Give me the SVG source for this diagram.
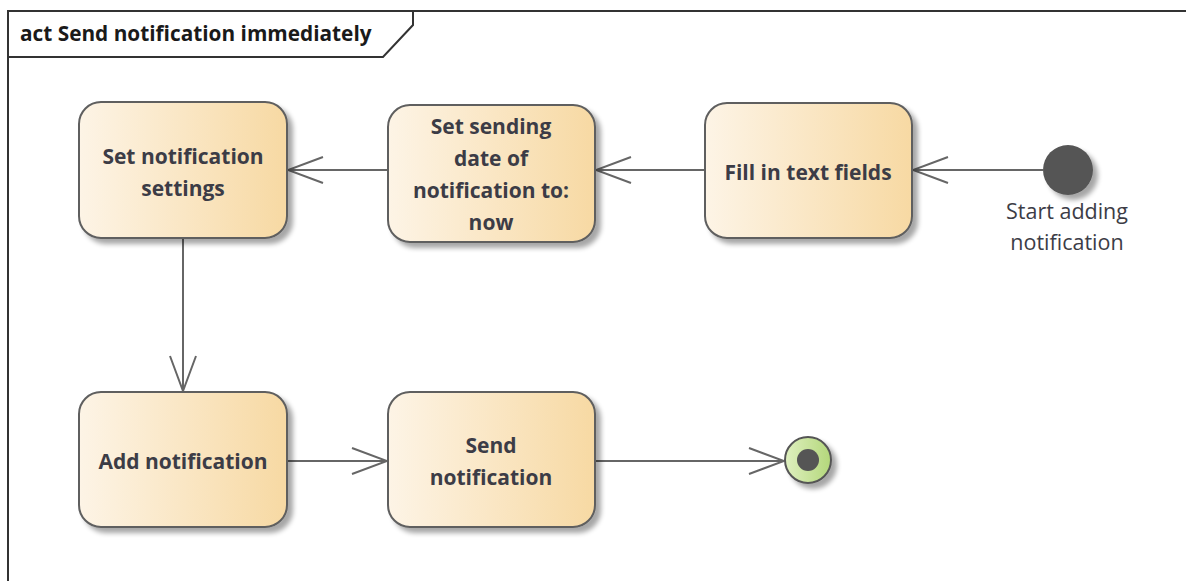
<svg xmlns="http://www.w3.org/2000/svg" width="1186" height="581" viewBox="0 0 1186 581">
<defs>
<linearGradient id="act" x1="0" y1="0" x2="1" y2="0">
<stop offset="0" stop-color="#fdf4e6"/>
<stop offset="1" stop-color="#f7d9a3"/>
</linearGradient>
<linearGradient id="fin" x1="0" y1="0" x2="1" y2="0">
<stop offset="0" stop-color="#dff0c0"/>
<stop offset="1" stop-color="#b3d77a"/>
</linearGradient>
<filter id="sh" x="-20%" y="-20%" width="150%" height="150%">
<feGaussianBlur in="SourceAlpha" stdDeviation="2.5"/>
<feOffset dx="5" dy="5" result="b"/>
<feComponentTransfer><feFuncA type="linear" slope="0.35"/></feComponentTransfer>
<feMerge><feMergeNode/><feMergeNode in="SourceGraphic"/></feMerge>
</filter>
<marker id="arr" viewBox="0 0 40 30" refX="38" refY="15" markerWidth="40" markerHeight="30" markerUnits="userSpaceOnUse" orient="auto">
<path d="M3,2 L38,15 L3,28" fill="none" stroke="#666" stroke-width="2"/>
</marker>
</defs>
<style>
.node rect{fill:url(#act);stroke:#5f5f5f;stroke-width:2;filter:url(#sh)}
.lbl{font-family:"Open Sans","Liberation Sans",sans-serif;font-weight:bold;font-size:21px;fill:#3c3c46;text-anchor:middle}
.conn line{stroke:#666;stroke-width:2;marker-end:url(#arr)}
.note{font-family:"Open Sans","Liberation Sans",sans-serif;font-size:21.5px;fill:#3c3c46;text-anchor:middle}
</style>
<rect x="0" y="0" width="1186" height="581" fill="#fff"/>
<g id="frame">
<path d="M8,581 L8,11 L1186,11" fill="none" stroke="#333" stroke-width="2"/>
<path d="M8,57 L383,57 L413,25 L413,11" fill="none" stroke="#333" stroke-width="2"/>
<text x="20" y="41" style="font-family:'Open Sans','Liberation Sans',sans-serif;font-weight:bold;font-size:20.8px;fill:#1a1a1a">act Send notification immediately</text>
</g>
<g class="conn" id="connectors">
<line x1="1043" y1="170" x2="913" y2="170"/>
<line x1="705" y1="170" x2="596" y2="170"/>
<line x1="388" y1="170" x2="288" y2="170"/>
<line x1="183" y1="238" x2="183" y2="391"/>
<line x1="287" y1="461" x2="387" y2="461"/>
<line x1="595" y1="461" x2="784" y2="461"/>
</g>
<g class="node" id="n_settings">
<rect x="79" y="102" width="208" height="136" rx="22"/>
<text class="lbl" x="183" y="164">Set notification</text>
<text class="lbl" x="183" y="196">settings</text>
</g>
<g class="node" id="n_senddate">
<rect x="388" y="105" width="207" height="137" rx="22"/>
<text class="lbl" x="491" y="134">Set sending</text>
<text class="lbl" x="491" y="166">date of</text>
<text class="lbl" x="491" y="198">notification to:</text>
<text class="lbl" x="491" y="230">now</text>
</g>
<g class="node" id="n_fill">
<rect x="705" y="103" width="207" height="135" rx="22"/>
<text class="lbl" x="808" y="180">Fill in text fields</text>
</g>
<g id="n_start">
<circle cx="1068" cy="170" r="25" fill="#555" filter="url(#sh)"/>
<text class="note" x="1067" y="219">Start adding</text>
<text class="note" x="1067" y="250">notification</text>
</g>
<g class="node" id="n_add">
<rect x="79" y="392" width="208" height="135" rx="22"/>
<text class="lbl" x="183" y="469">Add notification</text>
</g>
<g class="node" id="n_send">
<rect x="388" y="392" width="207" height="135" rx="22"/>
<text class="lbl" x="491" y="453">Send</text>
<text class="lbl" x="491" y="485">notification</text>
</g>
<g id="n_final">
<circle cx="808" cy="460" r="23" fill="url(#fin)" stroke="#555" stroke-width="2" filter="url(#sh)"/>
<circle cx="808" cy="460" r="11" fill="#555"/>
</g>
</svg>
